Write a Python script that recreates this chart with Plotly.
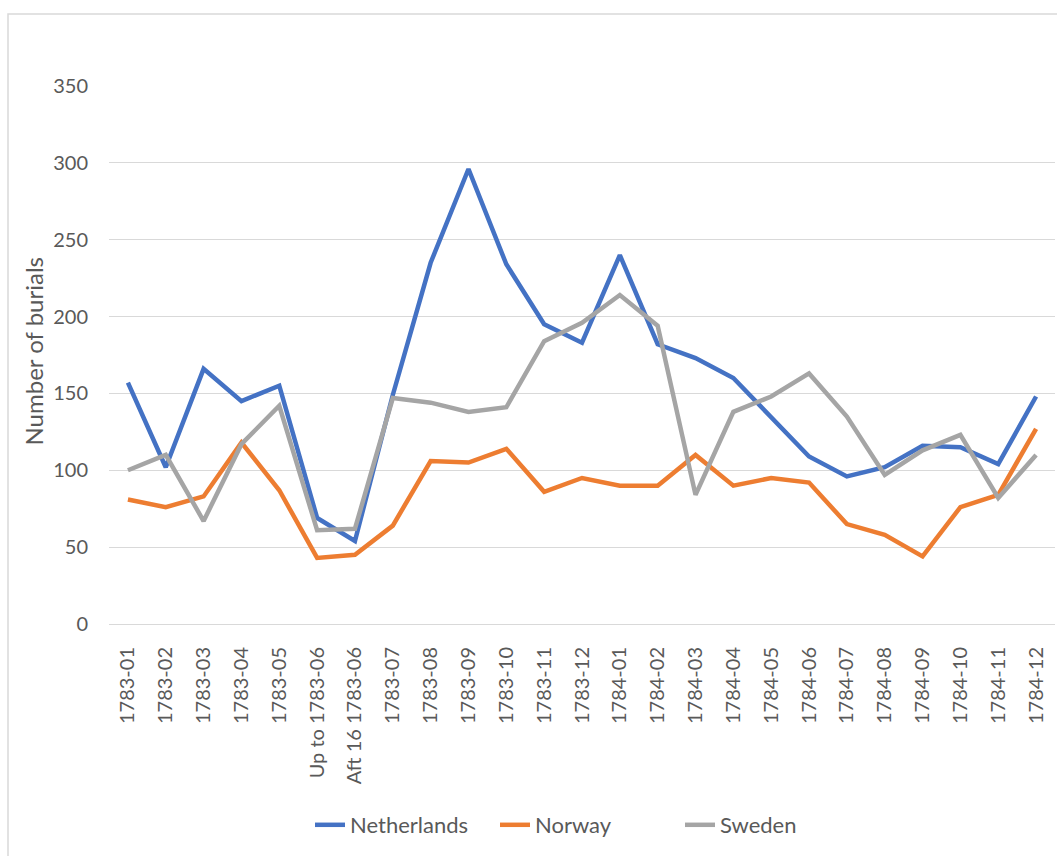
import plotly.graph_objects as go

# Monthly burial counts, 1783-1784
months = [
    "1783-01", "1783-02", "1783-03", "1783-04", "1783-05",
    "Up to 1783-06", "Aft 16 1783-06", "1783-07", "1783-08", "1783-09",
    "1783-10", "1783-11", "1783-12", "1784-01", "1784-02", "1784-03",
    "1784-04", "1784-05", "1784-06", "1784-07", "1784-08", "1784-09",
    "1784-10", "1784-11", "1784-12",
]
netherlands = [157, 102, 166, 145, 155, 69, 54, 149, 235, 296, 234, 195, 183,
               240, 182, 173, 160, 135, 109, 96, 102, 116, 115, 104, 148]
norway = [81, 76, 83, 118, 87, 43, 45, 64, 106, 105, 114, 86, 95,
          90, 90, 110, 90, 95, 92, 65, 58, 44, 76, 84, 127]
sweden = [100, 110, 67, 117, 142, 61, 62, 147, 144, 138, 141, 184, 196,
          214, 194, 84, 138, 148, 163, 135, 97, 113, 123, 82, 110]

y_ticks = [0, 50, 100, 150, 200, 250, 300, 350]

FONT = "Lato"
TEXT_COLOR = "#595959"
GRID_COLOR = "#D9D9D9"

W, H = 1057, 856
ML, MR, MT, MB = 109, 2, 86, 232
PW = W - ML - MR
PH = H - MT - MB


def px_x(x):
    return (x - ML) / PW


def px_y(y):
    return (H - MB - y) / PH


series = [
    ("Netherlands", netherlands, "#4472C4"),
    ("Norway", norway, "#ED7D31"),
    ("Sweden", sweden, "#A5A5A5"),
]

fig = go.Figure()
for name, vals, color in series:
    fig.add_trace(go.Scatter(
        x=months, y=vals, name=name, mode="lines",
        line=dict(color=color, width=4.5),
    ))

fig.update_layout(
    width=W, height=H,
    margin=dict(l=ML, r=MR, t=MT, b=MB, pad=0),
    paper_bgcolor="white", plot_bgcolor="white",
    font=dict(family=FONT, size=20, color=TEXT_COLOR),
    showlegend=True,
    legend=dict(
        orientation="h", x=px_x(310), xanchor="left",
        y=px_y(825), yanchor="middle",
        font=dict(family=FONT, size=22, color=TEXT_COLOR),
        entrywidth=140, entrywidthmode="pixels",
        bgcolor="rgba(0,0,0,0)",
    ),
    xaxis=dict(
        type="category", tickangle=-90, showgrid=False,
        showline=True, linecolor=GRID_COLOR, linewidth=1,
        ticks="", ticklabelstandoff=14,
        tickfont=dict(family=FONT, size=20, color=TEXT_COLOR),
        range=[-0.5, len(months) - 0.5], fixedrange=True,
    ),
    yaxis=dict(
        range=[0, 350], tickvals=y_ticks,
        showgrid=True, gridcolor=GRID_COLOR, gridwidth=1,
        zeroline=False, showline=False, ticks="",
        ticklabelstandoff=20,
        tickfont=dict(family=FONT, size=20, color=TEXT_COLOR),
    ),
    annotations=[dict(
        text="Number of burials", xref="paper", yref="paper",
        x=px_x(33), y=px_y(351.5), xanchor="center", yanchor="middle",
        textangle=-90, showarrow=False,
        font=dict(family=FONT, size=24, color=TEXT_COLOR),
    )],
    shapes=[dict(
        type="rect", xref="paper", yref="paper",
        x0=px_x(8), y0=px_y(900), x1=px_x(1100), y1=px_y(14),
        line=dict(color=GRID_COLOR, width=1.5), fillcolor="rgba(0,0,0,0)",
        layer="below",
    )],
)

fig.write_html("out.html")
